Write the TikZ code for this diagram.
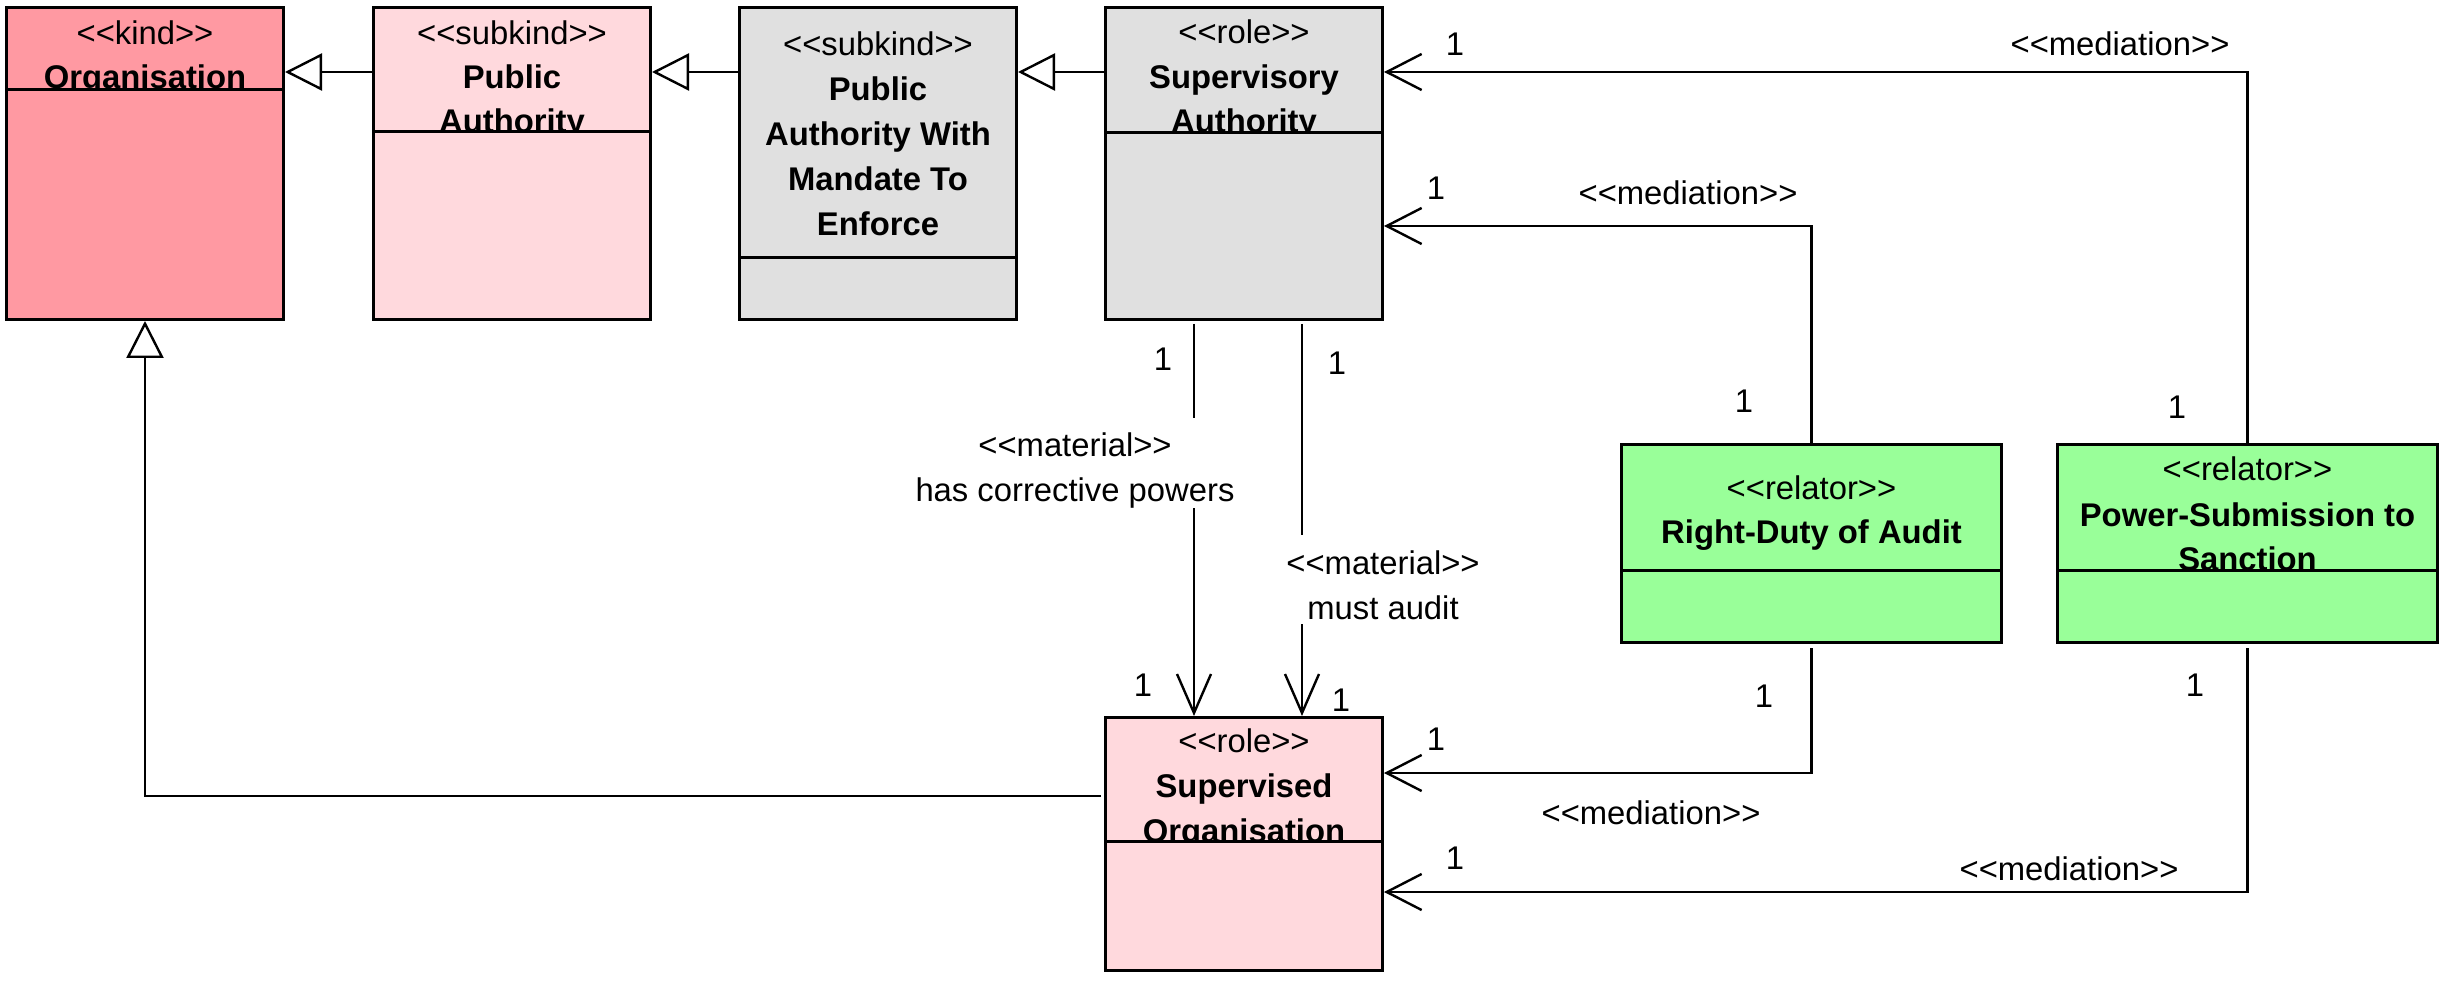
\documentclass[tikz,border=0pt]{standalone}
\usepackage{fontspec}
\newfontfamily\umlfont{Liberation Sans}
\usetikzlibrary{arrows.meta,calc}
\definecolor{kindc}{RGB}{255,153,162}
\definecolor{subc}{RGB}{255,217,221}
\definecolor{grayc}{RGB}{224,224,224}
\definecolor{relc}{RGB}{153,255,153}
\begin{document}
\begin{tikzpicture}[x=0.5pt,y=-0.5pt,
  box/.style={draw=black,line width=1.5pt,inner sep=0pt,anchor=north west},
  hdr/.style={line width=1.5pt},
  lbl/.style={font=\umlfont\fontsize{16.4}{20}\selectfont,anchor=base,inner sep=0pt,yshift=-1.3pt},
  nm/.style={font=\umlfont\fontsize{16.4}{20}\selectfont\bfseries,anchor=base,inner sep=0pt,yshift=-1.3pt},
  conn/.style={line width=1.2pt},
  gen/.style={line width=1.2pt,-{Triangle[open,length=18.5pt,width=18.5pt,line width=1.2pt]}},
  med/.style={line width=1.2pt,-{Straight Barb[length=17.5pt,width=18pt,line width=1.2pt]}},
  mat/.style={line width=1.2pt,-{Straight Barb[length=19.5pt,width=17pt,line width=1.2pt]}},
]
\useasboundingbox (0,0) rectangle (2448,984);
% boxes
\node[box,fill=kindc,minimum width=138.5pt,minimum height=156pt] (org) at (5,6) {};
\node[box,fill=subc,minimum width=138.5pt,minimum height=156pt] (pa) at (372,6) {};
\node[box,fill=grayc,minimum width=138.5pt,minimum height=156pt] (paw) at (738,6) {};
\node[box,fill=grayc,minimum width=138.5pt,minimum height=156pt] (sa) at (1104,6) {};
\node[box,fill=subc,minimum width=138.5pt,minimum height=126.5pt] (so) at (1104,716) {};
\node[box,fill=relc,minimum width=190pt,minimum height=99pt] (rd) at (1620,443) {};
\node[box,fill=relc,minimum width=190pt,minimum height=99pt] (ps) at (2056,443) {};
% texts
\begin{scope}
\clip (org.north west) rectangle ($(org.north east)+(0,84)$);
\node[lbl] (org1) at ($(org.north)+(0,36)$) {<<kind>>};
\node[nm] (org2) at ($(org.north)+(0,80)$) {Organisation};
\end{scope}
\begin{scope}
\clip (pa.north west) rectangle ($(pa.north east)+(0,126)$);
\node[lbl] (pa1) at ($(pa.north)+(0,36)$) {<<subkind>>};
\node[nm] (pa2) at ($(pa.north)+(0,80)$) {Public};
\node[nm] (pa3) at ($(pa.north)+(0,124)$) {Authority};
\end{scope}
\begin{scope}
\clip (paw.north west) rectangle ($(paw.north east)+(0,252)$);
\node[lbl] (paw1) at ($(paw.north)+(0,47)$) {<<subkind>>};
\node[nm] (paw2) at ($(paw.north)+(0,91.5)$) {Public};
\node[nm] (paw3) at ($(paw.north)+(0,136.5)$) {Authority With};
\node[nm] (paw4) at ($(paw.north)+(0,182)$) {Mandate To};
\node[nm] (paw5) at ($(paw.north)+(0,226.5)$) {Enforce};
\end{scope}
\begin{scope}
\clip (sa.north west) rectangle ($(sa.north east)+(0,127)$);
\node[lbl] (sa1) at ($(sa.north)+(0,35)$) {<<role>>};
\node[nm] (sa2) at ($(sa.north)+(0,80)$) {Supervisory};
\node[nm] (sa3) at ($(sa.north)+(0,124)$) {Authority};
\end{scope}
\begin{scope}
\clip (so.north west) rectangle ($(so.north east)+(0,125)$);
\node[lbl] (so1) at ($(so.north)+(0,34)$) {<<role>>};
\node[nm] (so2) at ($(so.north)+(0,79)$) {Supervised};
\node[nm] (so3) at ($(so.north)+(0,124)$) {Organisation};
\end{scope}
\begin{scope}
\clip (rd.north west) rectangle ($(rd.north east)+(0,127)$);
\node[lbl] (rd1) at ($(rd.north)+(0,54)$) {<<relator>>};
\node[nm] (rd2) at ($(rd.north)+(0,98)$) {Right-Duty of Audit};
\end{scope}
\begin{scope}
\clip (ps.north west) rectangle ($(ps.north east)+(0,127)$);
\node[lbl] (ps1) at ($(ps.north)+(0,35)$) {<<relator>>};
\node[nm] (ps2) at ($(ps.north)+(0,81)$) {Power-Submission to};
\node[nm] (ps3) at ($(ps.north)+(0,125)$) {Sanction};
\end{scope}
% header lines
\draw[hdr] ($(org.north west)+(0,84)$) -- ($(org.north east)+(0,84)$);
\draw[hdr] ($(pa.north west)+(0,126)$) -- ($(pa.north east)+(0,126)$);
\draw[hdr] ($(paw.north west)+(0,252)$) -- ($(paw.north east)+(0,252)$);
\draw[hdr] ($(sa.north west)+(0,127)$) -- ($(sa.north east)+(0,127)$);
\draw[hdr] ($(so.north west)+(0,125)$) -- ($(so.north east)+(0,125)$);
\draw[hdr] ($(rd.north west)+(0,127)$) -- ($(rd.north east)+(0,127)$);
\draw[hdr] ($(ps.north west)+(0,127)$) -- ($(ps.north east)+(0,127)$);
% helper coordinates
\coordinate (r72) at (0,72);
\coordinate (r226) at (0,226);
\coordinate (r773) at (0,773);
\coordinate (r796) at (0,796);
\coordinate (r892) at (0,892);
\coordinate (m1a) at (1194,418);
\coordinate (m1b) at (1194,508);
\coordinate (m2a) at (1302,535);
\coordinate (m2b) at (1302,624);
% generalizations
\draw[gen] (pa.west |- r72) -- (org.east |- r72);
\draw[gen] (paw.west |- r72) -- (pa.east |- r72);
\draw[gen] (sa.west |- r72) -- (paw.east |- r72);
\draw[gen] ($(so.west |- r796)+(-3,0)$) -| (org.south);
% mediations
\draw[med] (ps.north) |- (sa.east |- r72);
\draw[med] (rd.north) |- (sa.east |- r226);
\draw[med] ($(rd.south)+(0,4)$) |- (so.east |- r773);
\draw[med] ($(ps.south)+(0,4)$) |- (so.east |- r892);
% materials
\draw[conn] ($(sa.south -| m1a)+(0,3)$) -- (m1a);
\draw[mat] (m1b) -- (so.north -| m1b);
\draw[conn] ($(sa.south -| m2a)+(0,3)$) -- (m2a);
\draw[mat] (m2b) -- (so.north -| m2b);
% labels
\node[lbl] (c1) at (1455,53) {1};
\node[lbl] (t1) at (2120,53) {<<mediation>>};
\node[lbl] (c2) at (1436,197) {1};
\node[lbl] (t2) at (1688,202) {<<mediation>>};
\node[lbl] (c3) at (1163,368) {1};
\node[lbl] (t3a) at (1075,454) {<<material>>};
\node[lbl] (t3b) at (1075,499) {has corrective powers};
\node[lbl] (c4) at (1143,694) {1};
\node[lbl] (c5) at (1337,372) {1};
\node[lbl] (t4a) at (1383,572) {<<material>>};
\node[lbl] (t4b) at (1383,617) {must audit};
\node[lbl] (c6) at (1341,709) {1};
\node[lbl] (c7) at (1744,410) {1};
\node[lbl] (c8) at (2177,416) {1};
\node[lbl] (c9) at (1764,705) {1};
\node[lbl] (c10) at (1436,748) {1};
\node[lbl] (t5) at (1651,822) {<<mediation>>};
\node[lbl] (c11) at (2195,694) {1};
\node[lbl] (c12) at (1455,867) {1};
\node[lbl] (t6) at (2069,878) {<<mediation>>};
\end{tikzpicture}
\end{document}
